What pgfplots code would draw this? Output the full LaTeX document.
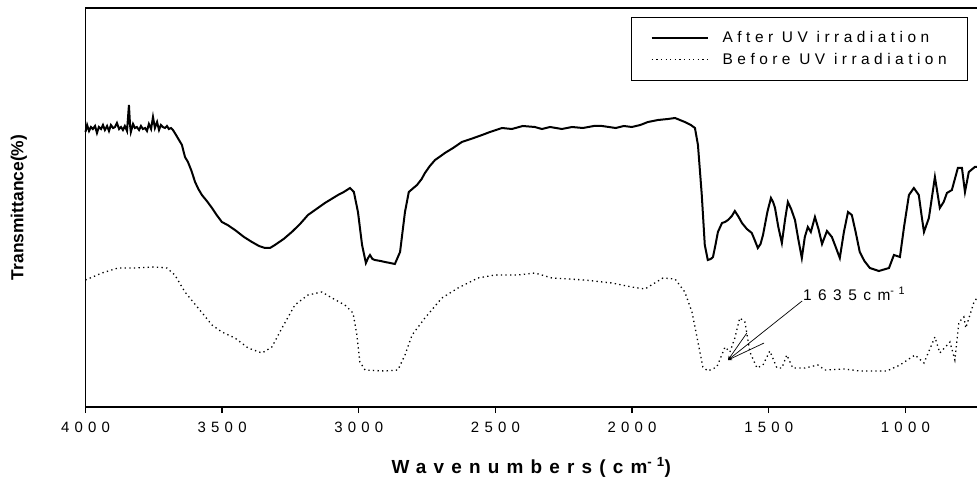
\documentclass[border=0pt]{standalone}
\usepackage{fontspec}
\setmainfont{Liberation Sans}
\newfontfamily\tickfont[LetterSpace=35]{Liberation Sans}
\newfontfamily\legfont[LetterSpace=29]{Liberation Sans}
\newfontfamily\annfont[LetterSpace=42]{Liberation Sans}
\newfontfamily\labfont[LetterSpace=38]{Liberation Sans}
\usepackage{pgfplots}
\pgfplotsset{compat=1.18}

\begin{document}
\begin{tikzpicture}
\begin{axis}[scale only axis,
width=891.5bp,
height=399bp,
x dir=reverse,
xmin=738, xmax=4000,
ymin=0, ymax=399,
axis lines=left,
axis line style={-, line width=1.6bp},
xtick={1000,1500,2000,2500,3000,3500,4000},
xticklabels={1000,1500,2000,2500,3000,3500,4000},
ytick=\empty,
tick align=outside,
major tick length=6bp,
tick style={line width=1.3bp, black},
xticklabel style={font=\tickfont\fontsize{15}{15}\selectfont, yshift=-6bp},
legend style={at={(0.99,0.977)}, anchor=north east, draw=black, line width=0.9bp,
  font=\legfont\fontsize{15.5}{15.5}\selectfont, inner xsep=19bp, inner ysep=12bp,
  row sep=5bp, /tikz/column sep=12bp},
legend cell align=left,
legend image code/.code={\draw[#1] (0bp,0bp) -- (56bp,0bp);},
clip=false]

% after UV irradiation
\addplot[black, line width=2bp] coordinates {
(4000,275) (3994,282) (3987,276) (3980,280) (3973,278) (3965,281) (3958,274)
(3951,280) (3943,278) (3936,282) (3929,277) (3921,281) (3914,276) (3907,282)
(3899,279) (3892,280) (3885,284) (3877,278) (3870,280) (3863,277) (3856,281)
(3848,276) (3841,302) (3837,282) (3834,275) (3826,283) (3819,279) (3812,280)
(3804,277) (3797,281) (3790,278) (3782,279) (3775,276) (3768,283) (3760,278)
(3753,290) (3746,279) (3738,285) (3731,277) (3724,282) (3717,280) (3709,279)
(3702,281) (3695,278) (3687,279) (3680,277) (3673,274)
(3660,268) (3647,262) (3636,250) (3625,245) (3612,236) (3599,225) (3587,218)
(3574,212) (3556,206) (3537,199) (3520,192) (3501,185) (3480,182) (3453,177)
(3420,170) (3391,165) (3365,161) (3343,159) (3325,159) (3307,162) (3275,168)
(3245,175) (3215,183) (3186,192) (3155,198) (3124,204) (3100,208) (3076,212)
(3055,215) (3032,219) (3018,215) (3003,195) (2988,162) (2974,144) (2966,149)
(2959,152) (2950,148) (2941,147) (2920,146) (2904,145) (2885,144) (2868,143)
(2849,155) (2831,195) (2817,215) (2800,219) (2787,222) (2770,228) (2758,234)
(2740,241) (2721,247) (2700,251) (2685,254) (2655,259) (2623,265) (2590,268)
(2549,272) (2520,275) (2476,279) (2440,278) (2400,281) (2356,280) (2330,278)
(2300,280) (2257,278) (2220,280) (2180,279) (2140,281) (2110,281) (2060,279)
(2030,281) (2001,280) (1970,282) (1942,285) (1905,287) (1869,288) (1843,289)
(1825,287) (1807,285) (1785,282) (1770,279) (1759,262) (1745,212) (1734,162)
(1723,147) (1712,148) (1704,150) (1695,162) (1686,175) (1671,184) (1660,185)
(1649,187) (1635,191) (1624,196) (1610,190) (1598,184) (1580,178) (1562,174)
(1550,166) (1540,159) (1530,163) (1521,172) (1505,195) (1492,209) (1484,205)
(1477,199) (1465,180) (1452,164) (1440,188) (1430,205) (1418,198) (1404,187)
(1392,168) (1379,149) (1368,170) (1357,180) (1346,175) (1331,190) (1318,178)
(1305,163) (1287,176) (1269,170) (1255,160) (1240,149) (1225,175) (1210,195)
(1196,192) (1182,175) (1167,155) (1150,146) (1130,139) (1097,136) (1060,139)
(1042,152) (1020,150) (1005,180) (987,212) (969,219) (951,212) (940,190)
(932,175) (914,189) (892,230) (874,199) (860,205) (848,214) (830,217)
(808,239) (793,239) (782,215) (768,235) (746,240) (738,240)
};
\addlegendentry{After UV irradiation}

% before UV irradiation
\addplot[black, line width=1.3bp, dash pattern=on 1.3bp off 3.3bp] coordinates {
(4000,127) (3940,134) (3881,139) (3819,139) (3746,140) (3702,139) (3673,132)
(3636,115) (3588,99) (3537,82) (3501,75) (3453,69) (3405,59) (3354,54)
(3318,60) (3281,79) (3234,102) (3186,112) (3135,115) (3098,109) (3051,102)
(3021,94) (3007,72) (2996,45) (2977,37) (2904,36) (2857,37) (2831,52)
(2805,72) (2758,89) (2696,109) (2637,119) (2564,129) (2502,132) (2418,132)
(2356,134) (2293,129) (2173,127) (2074,124) (2001,120) (1953,118) (1917,124)
(1887,129) (1843,128) (1807,115) (1781,95) (1759,65) (1741,40) (1723,36)
(1690,40) (1660,60) (1642,55) (1624,69) (1606,89) (1587,85) (1569,55)
(1543,39) (1521,42) (1496,56) (1470,39) (1452,39) (1434,52) (1412,39)
(1368,39) (1320,42) (1295,37) (1225,38) (1167,36) (1068,36) (1020,42)
(965,52) (932,44) (892,70) (874,54) (837,65) (819,47) (804,85) (786,90)
(779,79) (749,105) (738,109)
};
\addlegendentry{Before UV irradiation}

\draw[line width=1.6bp] (rel axis cs:0,1) -- (rel axis cs:1,1);

% annotation
\draw[line width=0.7bp, -stealth] (axis cs:1378,106) -- (axis cs:1649,47);
\draw[line width=0.7bp, -stealth] (axis cs:1580,74) -- (axis cs:1649,47);
\draw[line width=0.7bp, -stealth] (axis cs:1517,64) -- (axis cs:1649,47);
\node[anchor=base west, inner sep=0pt, font=\annfont\fontsize{15.5}{15.5}\selectfont]
  at (axis cs:1375,107) {1635cm\textsuperscript{-1}};

% axis titles
\node[rotate=90, anchor=center, font=\bfseries\fontsize{17.5}{17.5}\selectfont]
  at ([xshift=-66.5bp]rel axis cs:0,0.5) {Transmittance(\%)};
\node[anchor=base, font=\labfont\bfseries\fontsize{19}{19}\selectfont]
  at ([yshift=-66bp]rel axis cs:0.5,0) {Wavenumbers(cm\textsuperscript{-1})};

\coordinate (ll) at (rel axis cs:0,0);
\coordinate (ur) at (rel axis cs:1,1);
\end{axis}
\pgfresetboundingbox
\path ([shift={(-85.5bp,-72bp)}]ll) rectangle ([shift={(0bp,8bp)}]ur);
\end{tikzpicture}
\end{document}
